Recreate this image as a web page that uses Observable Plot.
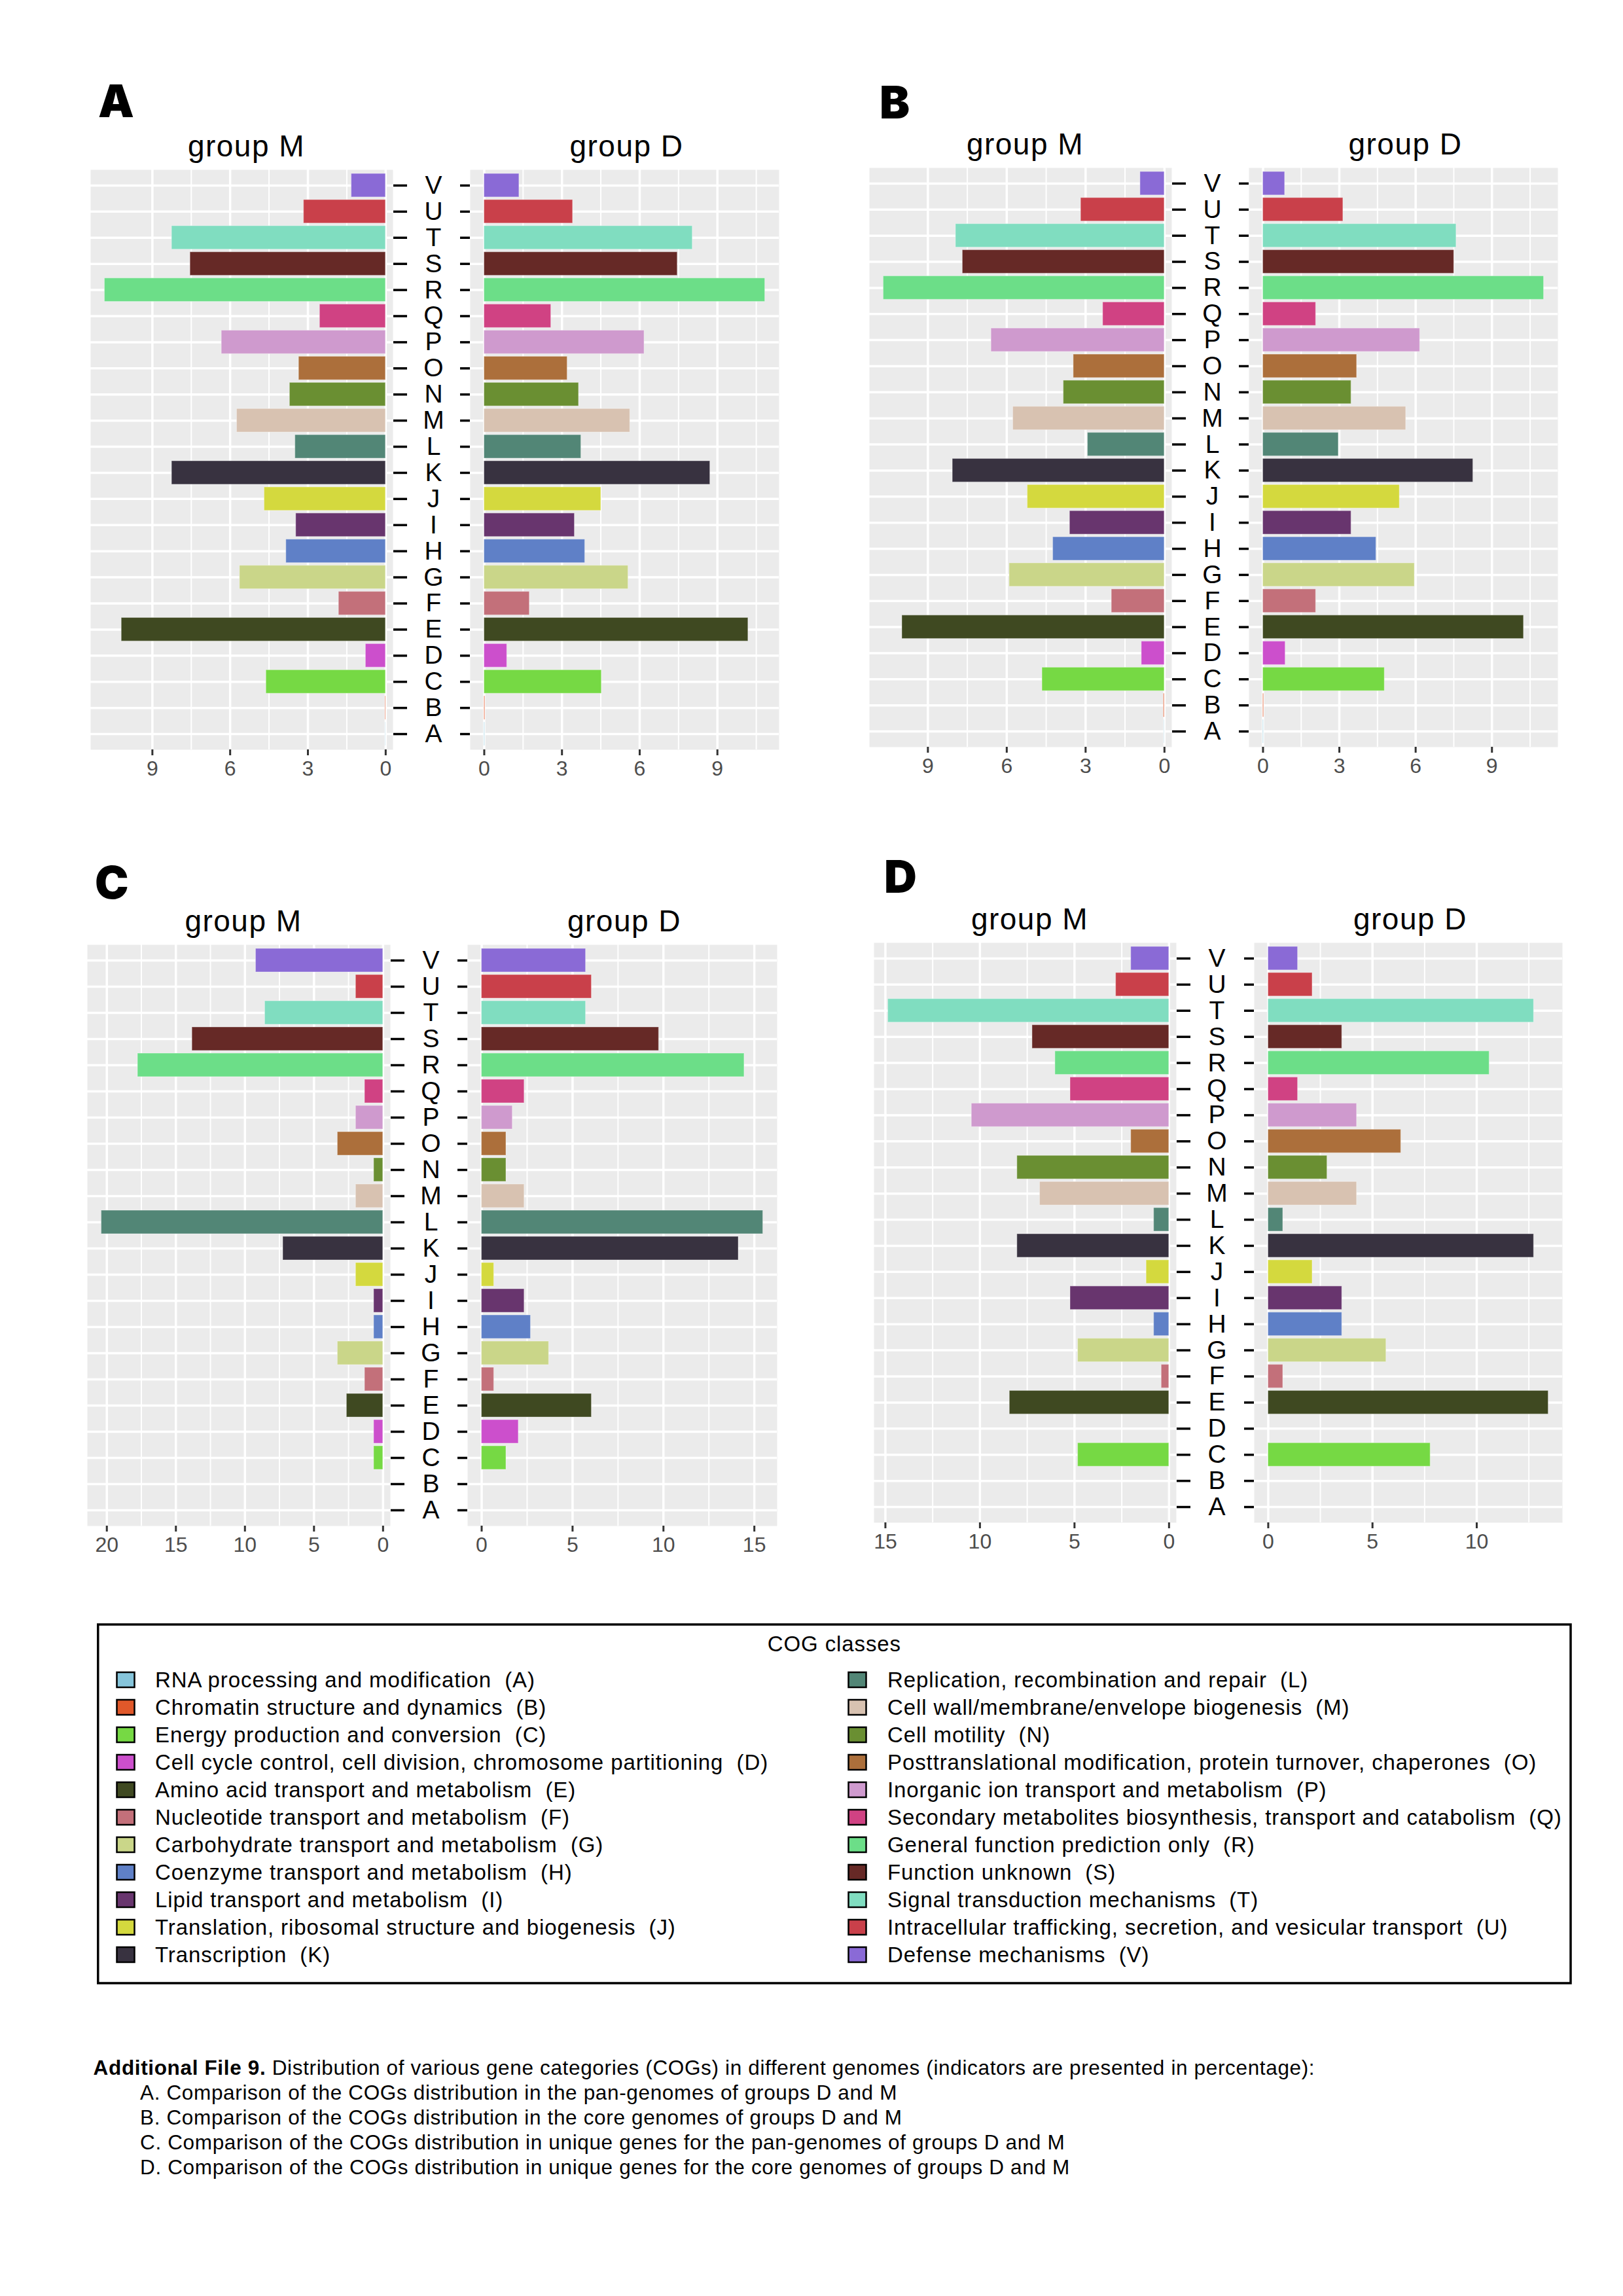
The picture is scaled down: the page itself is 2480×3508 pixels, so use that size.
<!DOCTYPE html>
<html>
<head>
<meta charset="utf-8">
<script src="https://cdn.jsdelivr.net/npm/d3@7"></script>
<script src="https://cdn.jsdelivr.net/npm/@observablehq/plot@0.6"></script>
<style>
html, body { margin: 0; padding: 0; background: #ffffff; }
#page { position: relative; width: 2480px; height: 3508px; background: #ffffff; overflow: hidden; }
#page > div.half { position: absolute; }
#overlay { position: absolute; left: 0; top: 0; }
</style>
</head>
<body>
<div id="page"></div>
<script>
// ---------------- DATA ----------------
const cogs = ["A","B","C","D","E","F","G","H","I","J","K","L","M","N","O","P","Q","R","S","T","U","V"];
const cogColors = ["#86C5DB","#E0582A","#76D944","#CC4FCC","#3F4921","#C3707A","#CAD689","#5F80C7","#68356E","#D4D93E","#383240",
                   "#528676","#D8C2B1","#6A8F32","#AC6F3B","#CF9ACE","#D04283","#6CDE88","#662926","#80DDC0","#C9404A","#8A6AD6"];
const cogNames = [
  "RNA processing and modification  (A)",
  "Chromatin structure and dynamics  (B)",
  "Energy production and conversion  (C)",
  "Cell cycle control, cell division, chromosome partitioning  (D)",
  "Amino acid transport and metabolism  (E)",
  "Nucleotide transport and metabolism  (F)",
  "Carbohydrate transport and metabolism  (G)",
  "Coenzyme transport and metabolism  (H)",
  "Lipid transport and metabolism  (I)",
  "Translation, ribosomal structure and biogenesis  (J)",
  "Transcription  (K)",
  "Replication, recombination and repair  (L)",
  "Cell wall/membrane/envelope biogenesis  (M)",
  "Cell motility  (N)",
  "Posttranslational modification, protein turnover, chaperones  (O)",
  "Inorganic ion transport and metabolism  (P)",
  "Secondary metabolites biosynthesis, transport and catabolism  (Q)",
  "General function prediction only  (R)",
  "Function unknown  (S)",
  "Signal transduction mechanisms  (T)",
  "Intracellular trafficking, secretion, and vesicular transport  (U)",
  "Defense mechanisms  (V)"
];

// values in percent, order A..V
const panelA_groupM = [0.01,0.02,4.61,0.77,10.19,1.81,5.63,3.84,3.46,4.68,8.25,3.49,5.74,3.70,3.35,6.33,2.54,10.84,7.54,8.25,3.16,1.32];
const panelA_groupD = [0.02,0.03,4.53,0.88,10.19,1.75,5.56,3.89,3.49,4.51,8.72,3.74,5.63,3.65,3.21,6.18,2.58,10.84,7.46,8.04,3.42,1.35];
const panelB_groupM = [0.01,0.03,4.65,0.87,9.98,2.01,5.90,4.24,3.60,5.21,8.06,2.92,5.76,3.84,3.46,6.59,2.34,10.69,7.68,7.94,3.18,0.92];
const panelB_groupD = [0.02,0.03,4.78,0.88,10.25,2.08,5.96,4.45,3.47,5.37,8.26,2.97,5.62,3.47,3.69,6.17,2.08,11.04,7.51,7.60,3.15,0.86];
const panelC_groupM = [0,0,0.66,0.66,2.63,1.32,3.29,0.66,0.66,1.97,7.24,20.39,1.97,0.66,3.29,1.97,1.32,17.76,13.82,8.55,1.97,9.21];
const panelC_groupD = [0,0,1.35,2.03,6.05,0.68,3.70,2.70,2.35,0.68,14.13,15.48,2.35,1.35,1.35,1.70,2.35,14.45,9.75,5.73,6.05,5.73];
const panelD_groupM = [0,0,4.82,0,8.43,0.40,4.82,0.80,5.22,1.20,8.03,0.80,6.83,8.03,2.01,10.44,5.22,6.02,7.23,14.86,2.81,2.01];
const panelD_groupD = [0,0,7.78,0,13.44,0.71,5.66,3.54,3.54,2.12,12.74,0.71,4.25,2.83,6.37,4.25,1.42,10.61,3.54,12.74,2.12,1.42];

// tick labels (major) and minor grid positions
const ticksAB = [0,3,6,9];
const minorAB_left = [1.5,4.5,7.5];
const minorAB_right = [1.5,4.5,7.5,10.5];
const ticksC_left = [0,5,10,15,20];
const ticksC_right = [0,5,10,15];
const minorC_left = [2.5,7.5,12.5,17.5];
const minorC_right = [2.5,7.5,12.5];
const ticksD_left = [0,5,10,15];
const ticksD_right = [0,5,10];
const minorD_left = [2.5,7.5,12.5];
const minorD_right = [2.5,7.5,12.5];

const panelLetters = ["A","B","C","D"];
const groupTitles = ["group M","group D"];
const legendTitle = "COG classes";
const captionBold = "Additional File 9.";
const captionLines = [
  " Distribution of various gene categories (COGs) in different genomes (indicators are presented in percentage):",
  "A. Comparison of the COGs distribution in the pan-genomes of groups D and M",
  "B. Comparison of the COGs distribution in the core genomes of groups D and M",
  "C. Comparison of the COGs distribution in unique genes for the pan-genomes of groups D and M",
  "D. Comparison of the COGs distribution in unique genes for the core genomes of groups D and M"
];

// ---------------- LAYOUT ----------------
const layout = [
  {L0: 138, L1: 600, R0: 718, R1: 1190, top: 259, bottom: 1145, lx: 150, ly: 179},
  {L0: 1328, L1: 1790, R0: 1908, R1: 2380, top: 256, bottom: 1141, lx: 1344, ly: 181},
  {L0: 133, L1: 596, R0: 714, R1: 1187, top: 1443, bottom: 2331, lx: 145, ly: 1373},
  {L0: 1335, L1: 1797, R0: 1916, R1: 2387, top: 1440, bottom: 2326, lx: 1351, ly: 1364}
];
const panels = [
  {m: panelA_groupM, d: panelA_groupD, tl: ticksAB, tr: ticksAB, ml: minorAB_left, mr: minorAB_right},
  {m: panelB_groupM, d: panelB_groupD, tl: ticksAB, tr: ticksAB, ml: minorAB_left, mr: minorAB_right},
  {m: panelC_groupM, d: panelC_groupD, tl: ticksC_left, tr: ticksC_right, ml: minorC_left, mr: minorC_right},
  {m: panelD_groupM, d: panelD_groupD, tl: ticksD_left, tr: ticksD_right, ml: minorD_left, mr: minorD_right}
];

const FONT = "'Liberation Sans', Arial, Helvetica, sans-serif";
const page = document.getElementById("page");
const MT = 80, MB = 60;

function halfPlot(values, ticks, minor, side, g) {
  const rows = cogs.map((c, i) => ({cog: c, value: values[i]}));
  const max = d3.max(values);
  const left = side === "left";
  const mL = left ? 40 : 30, mR = left ? 110 : 40;
  const w = left ? g.L1 - g.L0 : g.R1 - g.R0;
  const h = g.bottom - g.top;
  const plot = Plot.plot({
    width: mL + w + mR,
    height: MT + h + MB,
    marginLeft: mL, marginRight: mR, marginTop: MT, marginBottom: MB,
    style: {fontFamily: FONT, background: "transparent", overflow: "visible"},
    x: {domain: left ? [max * 1.05, -max * 0.026] : [-max * 0.05, max * 1.05], axis: null},
    y: {domain: cogs.slice().reverse(), padding: 0.2, round: false, axis: null},
    color: {domain: cogs, range: cogColors},
    marks: [
      Plot.frame({fill: "#EBEBEB", stroke: "none"}),
      Plot.gridX({ticks: minor, stroke: "white", strokeOpacity: 1, strokeWidth: 2}),
      Plot.gridX({ticks: ticks, stroke: "white", strokeOpacity: 1, strokeWidth: 3.5}),
      Plot.gridY({stroke: "white", strokeOpacity: 1, strokeWidth: 3.5}),
      Plot.barX(rows, {x: "value", y: "cog", fill: "cog", stroke: "white", strokeOpacity: 0.35, strokeWidth: 1.2, insetTop: -2, insetBottom: -2}),
      Plot.axisX({ticks: ticks, tickSize: 9, tickPadding: 8, fontSize: 32, fill: "#4D4D4D", stroke: "#333333", strokeWidth: 3, label: null}),
      left
        ? Plot.axisY({anchor: "right", tickSize: 21, tickPadding: 41, textAnchor: "middle", fontSize: 39, fill: "black", stroke: "black", strokeWidth: 3.5, label: null})
        : Plot.axisY({anchor: "left", tickSize: 15, tickFormat: () => "", stroke: "black", strokeWidth: 3.5, label: null}),
      Plot.text([left ? groupTitles[0] : groupTitles[1]], {text: d => d, frameAnchor: "top", lineAnchor: "bottom", dx: left ? 7 : 3, dy: -21, fontSize: 46, fill: "black"})
    ]
  });
  d3.select(plot).selectAll("text").filter(function() { return this.textContent.startsWith("group"); }).style("letter-spacing", "1.5px");
  const div = document.createElement("div");
  div.className = "half";
  div.style.left = ((left ? g.L0 : g.R0) - mL) + "px";
  div.style.top = (g.top - MT) + "px";
  div.appendChild(plot);
  page.appendChild(div);
}

panels.forEach((p, i) => {
  const g = layout[i];
  halfPlot(p.m, p.tl, p.ml, "left", g);
  halfPlot(p.d, p.tr, p.mr, "right", g);
});

// ---------------- OVERLAY: panel letters, legend, caption ----------------
const svg = d3.select(page).append("svg")
  .attr("id", "overlay").attr("width", 2480).attr("height", 3508)
  .style("font-family", FONT).style("pointer-events", "none");

svg.selectAll("text.letter").data(panelLetters).join("text")
  .attr("class", "letter")
  .attr("x", (d, i) => layout[i].lx)
  .attr("y", (d, i) => layout[i].ly)
  .attr("font-family", "Inter, Roboto, Lato, 'DejaVu Sans', sans-serif")
  .attr("font-weight", 900)
  .attr("font-size", 69)
  .text(d => d);

// legend
const LG = {x0: 149.75, y0: 2482, x1: 2400, y1: 3030, colX: [178.5, 1296.5], textX: [237, 1356], firstBase: 2578, step: 42, perCol: 11};
svg.append("rect").attr("x", LG.x0).attr("y", LG.y0).attr("width", LG.x1 - LG.x0).attr("height", LG.y1 - LG.y0)
  .attr("fill", "none").attr("stroke", "black").attr("stroke-width", 3.5);
svg.append("text").attr("x", (LG.x0 + LG.x1) / 2).attr("y", 2523).attr("text-anchor", "middle")
  .attr("font-size", 33).style("letter-spacing", "0.9px").text(legendTitle);
const items = svg.append("g").selectAll("g").data(cogs).join("g")
  .attr("transform", (d, i) => `translate(0,${LG.firstBase + (i % LG.perCol) * LG.step})`);
items.append("rect")
  .attr("x", (d, i) => LG.colX[Math.floor(i / LG.perCol)])
  .attr("y", -23).attr("width", 27).attr("height", 23)
  .attr("fill", (d, i) => cogColors[i]).attr("stroke", "black").attr("stroke-width", 2.5);
items.append("text")
  .attr("x", (d, i) => LG.textX[Math.floor(i / LG.perCol)])
  .attr("y", 0).attr("font-size", 33).style("white-space", "pre").style("letter-spacing", "0.9px")
  .text((d, i) => cogNames[i]);

// caption
const cap = svg.append("g").attr("font-size", 31.5).style("white-space", "pre").style("letter-spacing", "0.65px");
const first = cap.append("text").attr("x", 142.6).attr("y", 3170);
first.append("tspan").attr("font-weight", "bold").text(captionBold);
first.append("tspan").text(captionLines[0]);
cap.selectAll("text.sub").data(captionLines.slice(1)).join("text")
  .attr("class", "sub").attr("x", 214).attr("y", (d, i) => 3208 + i * 38).text(d => d);
</script>
</body>
</html>
